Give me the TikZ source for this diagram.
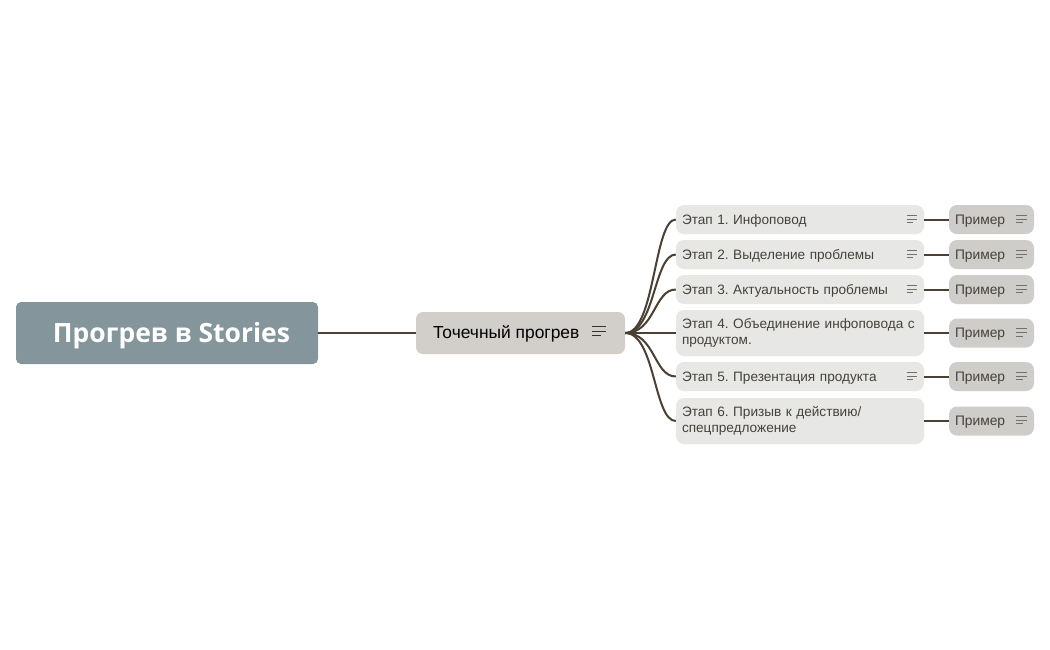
\documentclass[tikz,border=0pt]{standalone}
\usepackage{fontspec}
\setmainfont{Liberation Sans}
\newfontfamily\titlefont{Open Sans}
\usetikzlibrary{positioning, calc}
\frenchspacing
\definecolor{rootfill}{HTML}{84959C}
\definecolor{midfill}{HTML}{D2CFCA}
\definecolor{stagefill}{HTML}{E7E7E5}
\definecolor{samplefill}{HTML}{CFCDC9}
\definecolor{linkcol}{HTML}{4A4033}
\definecolor{textcol}{HTML}{45423C}
\tikzset{
    rootbox/.style={fill=rootfill, rounded corners=5pt, minimum width=302pt, minimum height=62pt,
        inner sep=0pt, text=white, font=\titlefont\fontsize{26.5}{30}\selectfont\bfseries},
    midbox/.style={fill=midfill, rounded corners=7pt, minimum width=209pt, minimum height=42pt,
        inner sep=0pt},
    midtext/.style={inner sep=0pt, text=black, font=\fontsize{17.4}{20}\selectfont},
    stagebox/.style={fill=stagefill, rounded corners=8pt, minimum width=248pt, text width=236pt,
        inner sep=0pt, align=left, text=textcol, font=\fontsize{13.6}{16}\selectfont},
    samplebox/.style={fill=samplefill, rounded corners=8pt, minimum width=85pt, minimum height=29pt,
        inner sep=0pt, text width=73pt, align=left, text=textcol, font=\fontsize{13.8}{16}\selectfont},
    link/.style={draw=linkcol, line width=2pt},
    notemark/.style={line width=1pt}
}
\newcommand{\boxstrut}{\rule[-3.4pt]{0pt}{16.4pt}}
\newcommand{\notelines}[4]{% x, y, length, colour
    \draw[notemark, draw=#4] (#1,#2-0.34*#3) -- ++(#3,0);
    \draw[notemark, draw=#4] (#1,#2) -- ++(#3,0);
    \draw[notemark, draw=#4] (#1,#2+0.34*#3) -- ++(#3*0.64,0);
}
\begin{document}
\begin{tikzpicture}[x=1pt, y=-1pt]
    \useasboundingbox (0,0) rectangle (1050,649);
    \fill[white] (0,0) rectangle (1050,649);

    % Draw the main nodes
    \node[rootbox] (root) at (167,333) {\rule[-3pt]{0pt}{29pt}\hspace*{9pt}Прогрев в Stories};
    \node[midbox] (mid) at (520.5,333) {};
    \node[midtext, anchor=west] (midlabel) at (433,334.5) {\strut Точечный прогрев};

    % Draw the stages
    \foreach \n/\y/\h/\txt in {1/219.5/29/{\boxstrut Этап 1. Инфоповод},
        2/254.5/29/{\boxstrut Этап 2. Выделение проблемы},
        3/289.5/29/{\boxstrut Этап 3. Актуальность проблемы},
        4/333/46/{\strut Этап 4. Объединение инфоповода с\\продуктом.\strut},
        5/376.5/29/{\boxstrut Этап 5. Презентация продукта},
        6/421/46/{\strut Этап 6. Призыв к действию/\\спецпредложение\strut}} {
        \node[stagebox, minimum height=\h pt] (stage\n) at (800,\y) {\txt};
    }

    % Draw the examples
    \foreach \n/\y in {1/219.5, 2/254.5, 3/289.5, 4/333, 5/376.5, 6/421} {
        \node[samplebox] (sample\n) at (991.5,\y) {\boxstrut Пример};
    }

    % Draw the links
    \draw[link] (root.east) -- (mid.west);
    \foreach \n in {1, 2, 3, 4, 5, 6} {
        \draw[link] (mid.east) .. controls +(30,0) and +(-22,0) .. (stage\n.west);
        \draw[link] (stage\n.east) -- (sample\n.west);
    }

    % Add the note marks
    \notelines{592}{331}{14}{black!80}
    \foreach \y in {219, 254, 289, 376} {
        \notelines{906.5}{\y}{10.5}{textcol!75}
    }
    \foreach \y in {219, 254, 289, 332.5, 376, 420} {
        \notelines{1016}{\y}{10.5}{textcol!75}
    }
\end{tikzpicture}
\end{document}
